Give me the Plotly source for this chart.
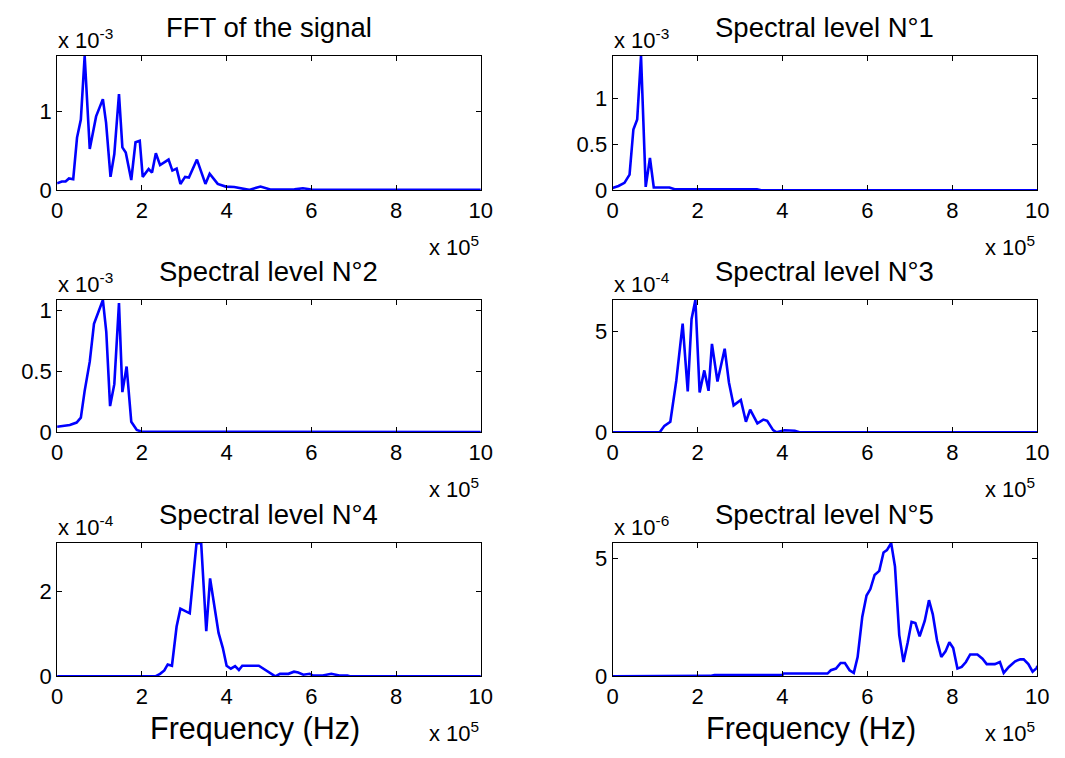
import plotly.graph_objects as go

# ---------------- data (x in units of 1e5 Hz, y in units of the axis multiplier) -------------
titles = ["FFT of the signal", "Spectral level N°1", "Spectral level N°2",
          "Spectral level N°3", "Spectral level N°4", "Spectral level N°5"]
y_exponents = [-3, -3, -3, -4, -4, -6]
y_ticks = [[0, 1], [0, 0.5, 1], [0, 0.5, 1], [0, 5], [0, 2], [0, 5]]

fft_x = [0, 0.11, 0.2, 0.28, 0.38, 0.47, 0.56, 0.65, 0.77, 0.92, 1.08, 1.155, 1.26, 1.35,
         1.46, 1.54, 1.62, 1.75, 1.85, 1.95, 2.02, 2.16, 2.24, 2.33, 2.43, 2.63, 2.72, 2.82,
         2.91, 3.02, 3.11, 3.30, 3.50, 3.6, 3.79, 3.98, 4.18, 4.37, 4.53, 4.8, 5.03, 5.6,
         5.8, 6.0, 7.0, 8.0, 9.0, 10]
fft_y = [0.0875, 0.11, 0.11, 0.15, 0.14, 0.67, 0.9, 1.71, 0.525, 0.94, 1.16, 0.86, 0.17, 0.46,
         1.225, 0.545, 0.48, 0.13, 0.61, 0.63, 0.17, 0.27, 0.225, 0.47, 0.32, 0.39, 0.25, 0.275,
         0.08, 0.17, 0.16, 0.39, 0.08, 0.21, 0.08, 0.046, 0.04, 0.025, 0.004, 0.046, 0.008, 0.01,
         0.025, 0.008, 0.006, 0.005, 0.005, 0.005]

lvl1_x = [0, 0.14, 0.28, 0.4, 0.49, 0.58, 0.67, 0.78, 0.88, 0.97, 1.34, 1.46, 3.4, 3.5, 10]
lvl1_y = [0.025, 0.046, 0.08, 0.17, 0.66, 0.77, 1.46, 0.036, 0.35, 0.03, 0.03, 0.01, 0.01, 0.0, 0.0]

lvl2_x = [0, 0.19, 0.3, 0.46, 0.56, 0.65, 0.77, 0.87, 1.08, 1.16, 1.25, 1.35, 1.46, 1.54,
          1.64, 1.75, 1.88, 2.0, 10]
lvl2_y = [0.046, 0.054, 0.06, 0.08, 0.12, 0.34, 0.58, 0.89, 1.086, 0.825, 0.215, 0.395, 1.06,
          0.33, 0.54, 0.086, 0.019, 0.005, 0.003]

lvl3_x = [0, 1.11, 1.22, 1.36, 1.5, 1.65, 1.77, 1.86, 1.95, 2.05, 2.16, 2.26, 2.34, 2.47, 2.64,
          2.74, 2.85, 3.02, 3.14, 3.24, 3.41, 3.55, 3.64, 3.78, 3.86, 4.05, 4.29, 4.4, 10]
lvl3_y = [0, 0, 0.32, 0.52, 2.54, 5.37, 2.02, 5.6, 6.54, 1.97, 3.06, 2.05, 4.37, 2.51, 4.13,
          2.46, 1.33, 1.6, 0.52, 1.12, 0.44, 0.63, 0.57, 0.11, 0, 0.1, 0.08, 0, 0]

lvl4_x = [0, 2.32, 2.43, 2.53, 2.61, 2.71, 2.82, 2.91, 3.13, 3.29, 3.4, 3.52, 3.61, 3.71, 3.81,
          3.91, 4.0, 4.1, 4.2, 4.29, 4.37, 4.76, 4.87, 5.03, 5.15, 5.26, 5.46, 5.59, 5.69, 5.81,
          5.96, 6.04, 6.27, 6.47, 6.66, 6.85, 6.93, 10]
lvl4_y = [0, 0, 0.06, 0.14, 0.28, 0.25, 1.17, 1.59, 1.48, 3.13, 3.13, 1.06, 2.3, 1.63, 1.02,
          0.67, 0.25, 0.18, 0.24, 0.15, 0.25, 0.25, 0.18, 0.08, 0, 0.06, 0.06, 0.11, 0.09, 0.04,
          0.06, 0.02, 0.02, 0.06, 0.02, 0.02, 0, 0]

lvl5_x = [0, 2.3, 2.4, 4.0, 4.02, 5.06, 5.14, 5.26, 5.37, 5.47, 5.58, 5.68, 5.77, 5.88, 5.98,
          6.07, 6.17, 6.28, 6.38, 6.46, 6.56, 6.65, 6.75, 6.85, 6.95, 7.04, 7.13, 7.23, 7.35,
          7.45, 7.54, 7.64, 7.74, 7.84, 7.93, 8.02, 8.12, 8.22, 8.32, 8.42, 8.59, 8.71, 8.81,
          9.0, 9.12, 9.21, 9.33, 9.48, 9.6, 9.68, 9.79, 9.89, 9.99, 10]
lvl5_y = [0, 0.02, 0.06, 0.06, 0.12, 0.12, 0.26, 0.33, 0.57, 0.57, 0.26, 0.15, 0.82, 2.53, 3.43,
          3.7, 4.3, 4.47, 5.25, 5.35, 5.65, 4.65, 1.75, 0.61, 1.45, 2.31, 2.26, 1.7, 2.35,
          3.23, 2.63, 1.52, 0.82, 1.06, 1.45, 1.2, 0.33, 0.4, 0.61, 0.93, 0.93, 0.75, 0.52,
          0.52, 0.61, 0.15, 0.4, 0.64, 0.72, 0.72, 0.52, 0.2, 0.36, 0.45]

series_x = [fft_x, lvl1_x, lvl2_x, lvl3_x, lvl4_x, lvl5_x]
series_y = [fft_y, lvl1_y, lvl2_y, lvl3_y, lvl4_y, lvl5_y]
x_ticks = [0, 2, 4, 6, 8, 10]

# ---------------- layout geometry (pixels) ----------------
W, H = 1065, 758
col_px = [(52, 483), (617, 1049)]
row_px = [(55, 192), (304, 439), (552, 688)]
FONT = "Liberation Sans, Arial, sans-serif"

fig = go.Figure()
layout = dict(width=W, height=H, margin=dict(l=0, r=0, t=0, b=0),
              paper_bgcolor="white", plot_bgcolor="white", showlegend=False,
              font=dict(family=FONT, color="black"))
annotations = []

for i in range(6):
    r, c = divmod(i, 2)
    x0, x1 = col_px[c]
    y0, y1 = row_px[r]
    n = "" if i == 0 else str(i + 1)
    fig.add_trace(go.Scatter(x=series_x[i], y=series_y[i], mode="lines",
                             line=dict(color="#0000FF", width=2.6),
                             xaxis="x" + n, yaxis="y" + n, cliponaxis=True))
    common = dict(showline=True, linecolor="black", linewidth=1, mirror="ticks",
                  ticks="inside", ticklen=5, tickcolor="black", showgrid=False,
                  zeroline=False, tickfont=dict(size=22, family=FONT, color="black"))
    layout["xaxis" + n] = dict(domain=[x0 / W, x1 / W], anchor="y" + n,
                               range=[0, 10], tickvals=x_ticks,
                               ticktext=[str(t) for t in x_ticks], **common)
    layout["yaxis" + n] = dict(domain=[1 - y1 / H, 1 - y0 / H], anchor="x" + n,
                               range=[0, max(series_y[i])], tickvals=y_ticks[i],
                               ticktext=[("%g" % t) for t in y_ticks[i]], **common)
    # title
    annotations.append(dict(text=titles[i], x=(x0 + x1) / 2 / W, y=1 - (y0 - 29) / H,
                            xref="paper", yref="paper", showarrow=False,
                            xanchor="center", yanchor="middle",
                            font=dict(size=27.5, family=FONT)))
    # y multiplier
    annotations.append(dict(text="x 10<sup>%d</sup>" % y_exponents[i], x=(x0 - 1) / W,
                            y=1 - (y0 - 17) / H, xref="paper", yref="paper",
                            showarrow=False, xanchor="left", yanchor="middle",
                            font=dict(size=22, family=FONT)))
    # x multiplier
    annotations.append(dict(text="x 10<sup>5</sup>", x=x1 / W,
                            y=1 - (y1 + 57) / H, xref="paper", yref="paper",
                            showarrow=False, xanchor="right", yanchor="middle",
                            font=dict(size=22, family=FONT)))

for c in range(2):
    x0, x1 = col_px[c]
    annotations.append(dict(text="Frequency (Hz)", x=(x0 + x1) / 2 / W - 0.013,
                            y=1 - 741 / H, xref="paper", yref="paper",
                            showarrow=False, xanchor="center", yanchor="middle",
                            font=dict(size=30.5, family=FONT)))

layout["annotations"] = annotations
fig.update_layout(**layout)
fig.write_html("out.html")
